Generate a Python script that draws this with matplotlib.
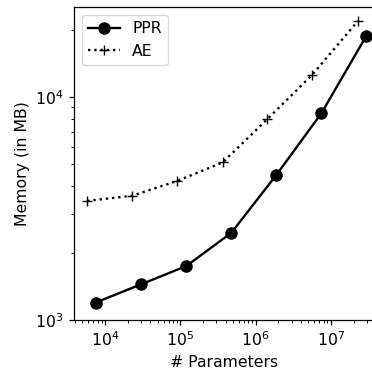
import matplotlib
matplotlib.use("Agg")
import matplotlib.pyplot as plt

ppr_params = [7.5e3, 3.0e4, 1.2e5, 4.75e5, 1.88e6, 7.45e6, 2.95e7]
ppr_memory = [1197, 1445, 1746, 2460, 4470, 8450, 18800]
ae_params = [5.8e3, 2.3e4, 9.0e4, 3.65e5, 1.42e6, 5.6e6, 2.27e7]
ae_memory = [3420, 3610, 4200, 5090, 7945, 12560, 21900]

s = 1.13
plt.rcParams.update({
    'font.size': 10 * s,
    'axes.linewidth': 0.8 * s,
    'xtick.major.size': 3.5 * s, 'ytick.major.size': 3.5 * s,
    'xtick.minor.size': 2 * s, 'ytick.minor.size': 2 * s,
    'xtick.major.width': 0.8 * s, 'ytick.major.width': 0.8 * s,
    'xtick.minor.width': 0.6 * s, 'ytick.minor.width': 0.6 * s,
})

fig = plt.figure(figsize=(3.72, 3.75), dpi=100)
ax = fig.add_axes([74/372, 1-320/375, (375-74)/372, (320-7)/375])
ax.plot(ppr_params, ppr_memory, '-o', color='black', lw=1.5 * s, ms=8, label='PPR')
ax.plot(ae_params, ae_memory, ':+', color='black', lw=1.5 * s, ms=7, label='AE')
ax.set_xscale('log')
ax.set_yscale('log')
ax.set_xlim(10**3.588, 10**7.585)
ax.set_ylim(1e3, 10**4.404)
ax.set_xlabel('# Parameters')
ax.set_ylabel('Memory (in MB)')
ax.legend(loc='upper left')
fig.savefig('out.png', dpi=100)
